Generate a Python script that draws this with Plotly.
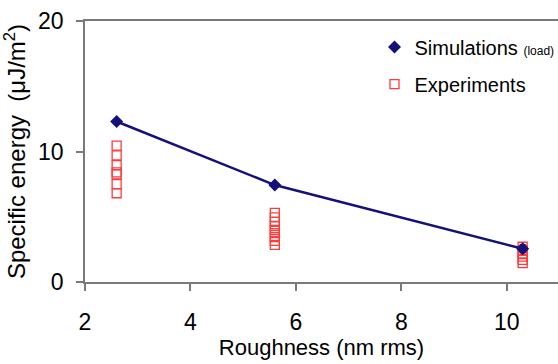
import plotly.graph_objects as go

sim_x = [2.6, 5.6, 10.3]
sim_y = [12.3, 7.43, 2.55]
sim_err = [0, 0, 0.3]

exp_x = [2.6]*7 + [5.6]*9 + [10.3]*6
exp_y = [10.45, 9.7, 8.95, 8.4, 8.25, 7.5, 6.8,
         5.3, 4.95, 4.6, 4.3, 4.0, 3.75, 3.45, 3.15, 2.85,
         2.7, 2.45, 2.2, 1.95, 1.7, 1.45]

x_ticks = [2, 4, 6, 8, 10]
y_ticks = [0, 10, 20]

FONT = "Liberation Sans, Arial, sans-serif"
NAVY = "#12127a"
RED = "#ff3b3b"
AXC = "#7a7a7a"

fig = go.Figure()
fig.add_trace(go.Scatter(x=exp_x, y=exp_y, mode="markers", name="Experiments",
                         legendgroup="b", legendrank=2,
                         marker=dict(symbol="square-open", size=9, color=RED, line=dict(width=1.3))))
fig.add_trace(go.Scatter(x=sim_x, y=sim_y, mode="lines", showlegend=False,
                         line=dict(color=NAVY, width=2.5)))
fig.add_trace(go.Scatter(x=sim_x, y=sim_y, mode="markers",
                         name="Simulations <span style='font-size:12px'>(load)</span>",
                         legendgroup="a", legendrank=1,
                         error_y=dict(type="data", array=sim_err, visible=True, color=NAVY,
                                      thickness=1.5, width=3),
                         marker=dict(symbol="diamond", size=10, color=NAVY)))

fig.update_layout(
    width=558, height=364,
    margin=dict(l=85, r=0, t=21, b=82, autoexpand=False),
    plot_bgcolor="white", paper_bgcolor="white",
    font=dict(family=FONT, size=22, color="black"),
    showlegend=True,
    legend=dict(x=0.612, y=0.975, xanchor="left", yanchor="top",
                bgcolor="rgba(0,0,0,0)", font=dict(size=20),
                itemwidth=30, tracegroupgap=8),
    xaxis=dict(range=[2, 10.97], tickvals=x_ticks, showgrid=False, zeroline=False,
               showline=True, linecolor=AXC, linewidth=1.5, mirror=True,
               ticks="outside", ticklen=7, tickcolor=AXC, tickwidth=1.5,
               ticklabelstandoff=12, tickfont=dict(size=23),
               title=dict(text="Roughness (nm rms)", font=dict(size=22), standoff=0)),
    yaxis=dict(range=[0, 20], tickvals=y_ticks, showgrid=False, zeroline=False,
               showline=True, linecolor=AXC, linewidth=1.5,
               ticks="outside", ticklen=7, tickcolor=AXC, tickwidth=1.5,
               ticklabelstandoff=8, tickfont=dict(size=23),
               title=dict(text="Specific energy  (\u03bcJ/m<sup>2</sup>)",
                          font=dict(size=24), standoff=6)),
)

fig.write_html("out.html")
